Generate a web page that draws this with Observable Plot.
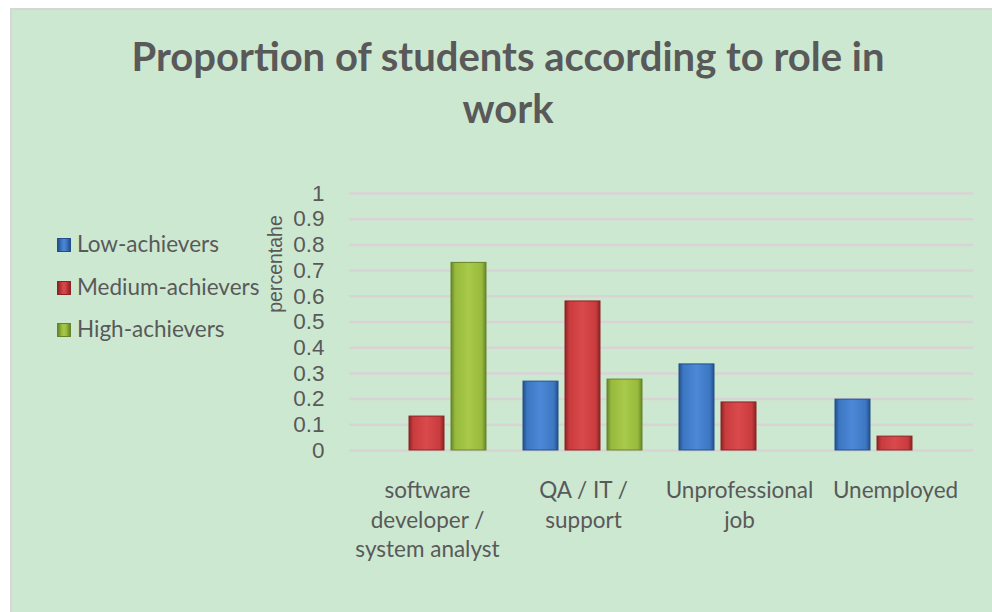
<!DOCTYPE html>
<html><head><meta charset="utf-8">
<script src="https://cdn.jsdelivr.net/npm/d3@7"></script>
<script src="https://cdn.jsdelivr.net/npm/@observablehq/plot@0.6"></script>
<style>
html,body{margin:0;padding:0;background:#fff;}
#page{position:relative;width:992px;height:612px;overflow:hidden;background:#fff;}
#panel{position:absolute;left:10px;top:8px;width:1000px;height:620px;background:#CDE8D1;border:2px solid #D6D6D6;box-sizing:border-box;}
#title{position:absolute;left:0;width:1016px;top:29.5px;text-align:center;font-family:Lato,"Open Sans",sans-serif;font-weight:bold;font-size:40px;line-height:52px;color:#595959;white-space:nowrap;}
#legend{position:absolute;left:57px;top:223px;font-family:Lato,"Open Sans",sans-serif;font-size:22.5px;line-height:42.5px;color:#595959;white-space:nowrap;}
#legend .item{height:42.5px;}
#legend .sw{display:inline-block;width:14px;height:14px;margin-right:6px;box-sizing:border-box;vertical-align:baseline;}
#chart{position:absolute;left:0;top:0;}
#chart svg{overflow:visible;}
</style>
</head><body>
<div id="page">
  <div id="panel"></div>
  <div id="title">Proportion of students according to role in<br>work</div>
  <div id="legend"></div>
  <div id="chart"></div>
</div>
<script>
const categories = ["software developer / system analyst", "QA / IT / support", "Unprofessional job", "Unemployed"];
const categoryLines = ["software\ndeveloper /\nsystem analyst", "QA / IT /\nsupport", "Unprofessional\njob", "Unemployed"];
const series = ["Low-achievers", "Medium-achievers", "High-achievers"];
const lowValues = [null, 0.268, 0.335, 0.198];
const mediumValues = [0.132, 0.58, 0.187, 0.054];
const highValues = [0.73, 0.276, null, null];
const yTicks = [0, 0.1, 0.2, 0.3, 0.4, 0.5, 0.6, 0.7, 0.8, 0.9, 1];
const yLabel = "percentahe";
const seriesColors = ["#3D77C3", "#C93B3D", "#98BA3C"];
const seriesDark = ["#23508C", "#8A2426", "#66852A"];
const seriesLight = ["#4C88D6", "#DA4A4C", "#A8C94A"];

const valuesBySeries = [lowValues, mediumValues, highValues];
const table = [];
categories.forEach((c, i) => series.forEach((s, j) => {
  table.push({category: c, series: s, value: valuesBySeries[j][i]});
}));

const gradIds = ["gLow", "gMed", "gHigh"];
const marks = [
  Plot.ruleY(yTicks, {stroke: "#D9D3D6", strokeWidth: 2.5})
];
series.forEach((s, j) => {
  marks.push(Plot.barY(table, {
    filter: d => d.series === s && d.value != null,
    x: "series", y: "value",
    fill: `url(#${gradIds[j]})`,
    stroke: seriesDark[j], strokeWidth: 1
  }));
});
const fxFormat = c => categoryLines[categories.indexOf(c)];
const hasAxisMarks = typeof Plot.axisFx === "function";
if (hasAxisMarks) {
  marks.push(Plot.axisFx({anchor: "bottom", tickSize: 0, tickPadding: 27, label: null, tickFormat: fxFormat,
    lineHeight: 1.31, fontSize: 22.5, fontFamily: "Lato, 'Open Sans', sans-serif"}));
  marks.push(Plot.axisY({anchor: "left", ticks: yTicks, tickSize: 0, tickPadding: 25, tickFormat: d => String(d),
    label: yLabel, labelAnchor: "center", labelArrow: false, labelOffset: 72}));
}

const fxOptions = {domain: categories, padding: 0, label: null, tickSize: 0, tickPadding: 27, tickFormat: fxFormat};
if (!hasAxisMarks) fxOptions.axis = "bottom";

const chart = Plot.plot({
  width: 992, height: 612,
  marginLeft: 348, marginRight: 18, marginTop: 193, marginBottom: 162,
  style: {background: "transparent", color: "#595959", fontFamily: "Liberation Sans, Arial, sans-serif", fontSize: "22.5px"},
  facet: {data: table, x: "category"},
  fx: fxOptions,
  x: {domain: series, axis: null, paddingInner: 0.16, paddingOuter: 0.4},
  y: {domain: [0, 1], ticks: yTicks, tickSize: 0, tickPadding: 25, tickFormat: d => String(d),
      label: yLabel, labelAnchor: "center", labelOffset: 72},
  marks
});

const svg = d3.select(chart);
const defs = svg.insert("defs", ":first-child");
gradIds.forEach((id, j) => {
  const g = defs.append("linearGradient").attr("id", id).attr("x1", 0).attr("x2", 1).attr("y1", 0).attr("y2", 0);
  [[0, seriesDark[j]], [0.12, seriesColors[j]], [0.5, seriesLight[j]], [0.88, seriesColors[j]], [1, seriesDark[j]]]
    .forEach(([o, c]) => g.append("stop").attr("offset", o).attr("stop-color", c));
});
// y-axis label placement (rotated, as in the reference)
let lab = svg.select('g[aria-label="y-axis label"] text');
if (lab.empty()) lab = svg.select('g[aria-label="y-axis"] text.label, g[aria-label="y-axis"] > text');
if (!lab.empty()) {
  lab.text(yLabel).attr("x", null).attr("y", null).attr("dy", null)
    .attr("text-anchor", "middle")
    .attr("transform", "translate(282,264) rotate(-90)")
    .style("font-size", "19.5px");
  const pg = lab.node().parentNode;
  if (pg && pg.getAttribute("aria-label") === "y-axis label") pg.removeAttribute("transform");
}
document.getElementById("chart").appendChild(chart);

const legend = d3.select("#legend");
series.forEach((s, j) => {
  const it = legend.append("div").attr("class", "item");
  it.append("span").attr("class", "sw")
    .style("background", `linear-gradient(to right, ${seriesDark[j]}, ${seriesColors[j]} 30%, ${seriesLight[j]} 50%, ${seriesColors[j]} 70%, ${seriesDark[j]})`)
    .style("border", `1px solid ${seriesDark[j]}`);
  it.append("span").text(s);
});
</script>
</body></html>
